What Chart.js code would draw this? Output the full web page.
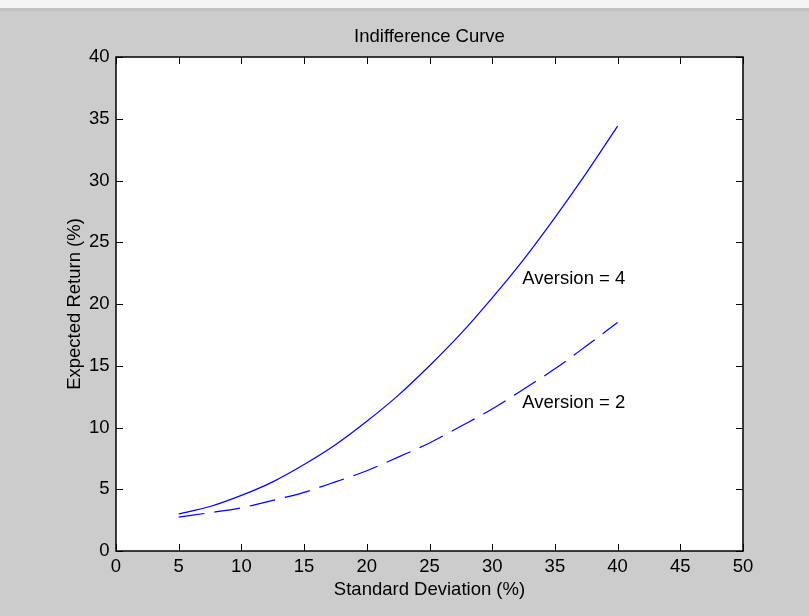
<!DOCTYPE html>
<html>
<head>
<meta charset="utf-8">
<title>Indifference Curve</title>
<script src="https://cdn.jsdelivr.net/npm/chart.js@4/dist/chart.umd.min.js"></script>
<style>
  html, body { margin: 0; padding: 0; background: #cccccc; }
  #wrap { position: relative; width: 809px; height: 616px; }
</style>
</head>
<body>
<div id="wrap"><canvas id="curve"></canvas></div>
<script>
// values
const stdDev = [5, 7.5, 10, 12.5, 15, 17.5, 20, 22.5, 25, 27.5, 30, 32.5, 35, 37.5, 40];
const aversion4 = [3.0, 3.6, 4.5, 5.6, 7.0, 8.6, 10.5, 12.6, 15.0, 17.6, 20.5, 23.6, 27.0, 30.6, 34.4];
const aversion2 = [2.75, 3.1, 3.5, 4.1, 4.75, 5.6, 6.5, 7.6, 8.75, 10.1, 11.5, 13.1, 14.75, 16.6, 18.5];

const labelText = ['Aversion = 4', 'Aversion = 2'];
const labelX = [32.4, 32.4];
const labelY = [22, 12];

const chartTitle = 'Indifference Curve';

const fontFamily = '"Liberation Sans", Arial, Helvetica, sans-serif';
const fontSize = 18.5;

const ctx = document.getElementById('curve');

function points(ys) {
    let out = [];
    for (let i = 0; i < stdDev.length; i++) {
        out.push({ x: stdDev[i], y: ys[i] });
    }
    return out;
}

// grey figure, white axes
const background = {
    id: 'background',
    beforeDraw(chart) {
        const c = chart.ctx;
        const a = chart.chartArea;
        c.save();
        c.fillStyle = '#cccccc';
        c.fillRect(0, 0, chart.width, chart.height);
        c.fillStyle = '#f4f4f4';
        c.fillRect(0, 0, chart.width, 8);
        c.fillStyle = '#c2c2c2';
        c.fillRect(0, 8, chart.width, 3);
        c.fillStyle = '#ffffff';
        c.fillRect(a.left, a.top, a.right - a.left, a.bottom - a.top);
        c.restore();
    }
};

// box with ticks pointing inward on all four sides
const axesBox = {
    id: 'axesBox',
    afterDraw(chart) {
        const c = chart.ctx;
        const a = chart.chartArea;
        const xs = chart.scales.x;
        const ys = chart.scales.y;
        const len = 7;
        c.save();
        c.strokeStyle = '#000000';
        c.lineWidth = 1;
        c.beginPath();
        xs.ticks.forEach(t => {
            const px = Math.round(xs.getPixelForValue(t.value)) + 0.5;
            c.moveTo(px, a.bottom);
            c.lineTo(px, a.bottom - len);
            c.moveTo(px, a.top);
            c.lineTo(px, a.top + len);
        });
        ys.ticks.forEach(t => {
            const py = Math.round(ys.getPixelForValue(t.value)) + 0.5;
            c.moveTo(a.left, py);
            c.lineTo(a.left + len, py);
            c.moveTo(a.right, py);
            c.lineTo(a.right - len, py);
        });
        c.stroke();
        c.lineWidth = 1.5;
        c.strokeRect(a.left, a.top, a.right - a.left, a.bottom - a.top);
        c.restore();
    }
};

// title over the axes and text labels placed in data coordinates
const curveLabels = {
    id: 'curveLabels',
    afterDatasetsDraw(chart) {
        const c = chart.ctx;
        const a = chart.chartArea;
        const xs = chart.scales.x;
        const ys = chart.scales.y;
        c.save();
        c.fillStyle = '#000000';
        c.font = fontSize + 'px ' + fontFamily;
        c.textBaseline = 'middle';
        c.textAlign = 'center';
        c.fillText(chartTitle, (a.left + a.right) / 2, 37);
        c.textAlign = 'left';
        for (let i = 0; i < labelText.length; i++) {
            c.fillText(labelText[i], xs.getPixelForValue(labelX[i]), ys.getPixelForValue(labelY[i]));
        }
        c.restore();
    }
};

const data = {
    datasets: [
        {
            label: 'Aversion = 4',
            data: points(aversion4),
            borderColor: '#0000ff',
            borderWidth: 1.2,
            pointRadius: 0,
            fill: false,
            cubicInterpolationMode: 'monotone'
        },
        {
            label: 'Aversion = 2',
            data: points(aversion2),
            borderColor: '#0000ff',
            borderWidth: 1.2,
            borderDash: [26, 10],
            pointRadius: 0,
            fill: false,
            cubicInterpolationMode: 'monotone'
        }
    ]
};

const config = {
    type: 'line',
    data: data,
    options: {
        responsive: true,
        maintainAspectRatio: false,
        animation: false,
        layout: { padding: { left: 0, right: 66, top: 57, bottom: 0 } },
        plugins: {
            legend: { display: false },
            tooltip: { enabled: false },
            title: { display: false }
        },
        scales: {
            x: {
                type: 'linear',
                min: 0,
                max: 50,
                grid: { display: false, drawTicks: false },
                border: { display: false },
                ticks: {
                    stepSize: 5,
                    color: '#000000',
                    padding: 5,
                    maxRotation: 0,
                    font: { family: fontFamily, size: fontSize }
                },
                title: {
                    display: true,
                    text: 'Standard Deviation (%)',
                    color: '#000000',
                    font: { family: fontFamily, size: fontSize },
                    padding: { top: 0, bottom: 15 }
                },
                afterFit(scale) { scale.height = 65; }
            },
            y: {
                min: 0,
                max: 40,
                grid: { display: false, drawTicks: false },
                border: { display: false },
                ticks: {
                    stepSize: 5,
                    color: '#000000',
                    padding: 6.5,
                    font: { family: fontFamily, size: fontSize }
                },
                title: {
                    display: true,
                    text: 'Expected Return (%)',
                    color: '#000000',
                    font: { family: fontFamily, size: fontSize },
                    padding: { top: 64, bottom: 0 }
                },
                afterFit(scale) { scale.width = 116; }
            }
        }
    },
    plugins: [background, axesBox, curveLabels]
};

new Chart(ctx, config);
</script>
</body>
</html>
